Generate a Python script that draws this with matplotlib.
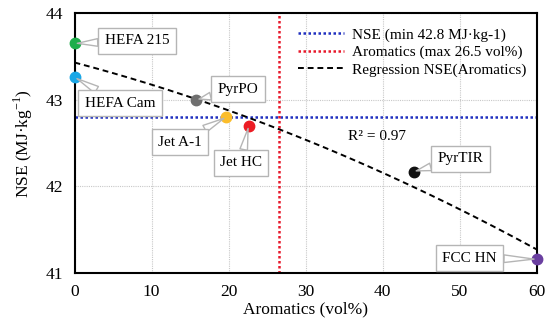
import numpy as np
import matplotlib.pyplot as plt

plt.rcParams['font.family'] = ['Liberation Serif', 'DejaVu Serif']
plt.rcParams['mathtext.fontset'] = 'custom'
plt.rcParams['mathtext.rm'] = 'Liberation Serif'

# Data
fuels = ['HEFA 215', 'HEFA Cam', 'PyrPO', 'Jet A-1', 'Jet HC', 'PyrTIR', 'FCC HN']
aromatics = [0.0, 0.0, 15.8, 19.7, 22.6, 44.0, 60.0]
nse = [43.65, 43.26, 43.0, 42.8, 42.7, 42.17, 41.16]
colors = ['#1fae4b', '#1aa7e6', '#6f6f6f', '#fbbd2a', '#ec1c24', '#111111', '#6a3fa0']

# label box positions (data coords)
label_x = [8.1, 5.9, 21.2, 13.7, 21.6, 50.1, 51.3]
label_y = [43.68, 42.96, 43.12, 42.51, 42.27, 42.32, 41.17]

nse_min = 42.8
arom_max = 26.5
reg_coef = [-0.000208, -0.0235, 43.43]  # quadratic trend

fig = plt.figure(figsize=(5.5, 3.28), dpi=100)
ax = fig.add_axes([0.1355, 0.1677, 0.8405, 0.7923])

ax.axhline(nse_min, color='#1f2fbf', ls=(0, (1, 1)), lw=1.8,
           label='NSE (min 42.8 MJ·kg-1)', zorder=2)
ax.axvline(arom_max, color='#e8182a', ls=(0, (1, 1)), lw=1.8,
           label='Aromatics (max 26.5 vol%)', zorder=2)
xs = np.linspace(0, 60, 200)
ax.plot(xs, np.polyval(reg_coef, xs), color='black', ls=(0, (3, 2)), lw=1.4,
        label='Regression NSE(Aromatics)', zorder=3)

for name, x, y, c, lx, ly in zip(fuels, aromatics, nse, colors, label_x, label_y):
    ax.plot(x, y, 'o', color=c, ms=7.5, zorder=5, clip_on=False)
    ax.annotate(name, xy=(x, y), xytext=(lx, ly), fontsize=11,
                ha='center', va='center', zorder=6,
                bbox=dict(boxstyle='square,pad=0.42', fc='white', ec='#b5b5b5', lw=1),
                arrowprops=dict(arrowstyle='wedge,tail_width=0.5,shrink_factor=0.5',
                                fc='white', ec='#b5b5b5', lw=1,
                                shrinkA=0, shrinkB=2))

ax.text(35.5, 42.57, 'R² = 0.97', fontsize=11, ha='left', va='center')

ax.set_xlim(0, 60)
ax.set_ylim(41, 44)
ax.set_xticks(range(0, 61, 10))
ax.set_yticks([41, 42, 43, 44])
ax.tick_params(length=0, labelsize=12.5, pad=8)
ax.grid(True, color='#c8c8c8', ls=(0, (1, 1)), lw=0.8)
ax.set_axisbelow(True)
for s in ax.spines.values():
    s.set_linewidth(1.5)

ax.set_xlabel('Aromatics (vol%)', fontsize=12.5, labelpad=1)
ax.set_ylabel('NSE (MJ·kg$^{-1}$)', fontsize=12.5, labelpad=8)

ax.legend(loc='upper right', bbox_to_anchor=(1.0, 0.985), frameon=False,
          fontsize=11, handlelength=3.0, handletextpad=0.5, labelspacing=0.25,
          borderaxespad=0.3)

fig.savefig('out.png', dpi=100)
